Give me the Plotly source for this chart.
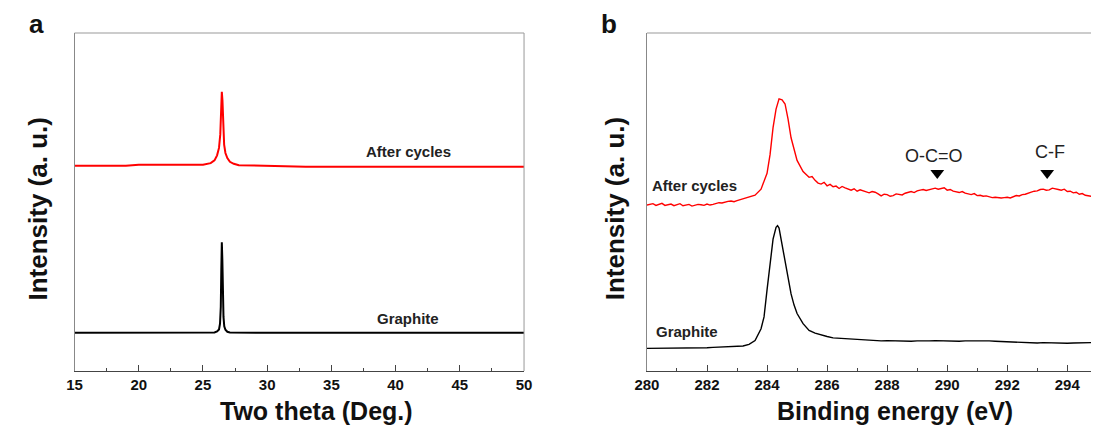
import plotly.graph_objects as go

# ---------------- data: panel a (XRD) ----------------
xrd_graphite_x = [15, 20, 25, 25.9, 26.1, 26.25, 26.33, 26.39, 26.43, 26.47, 26.51, 26.55, 26.6, 26.66, 26.75, 26.9, 27.1, 30, 35, 40, 45, 50]
xrd_graphite_y = [11.3, 11.3, 11.3, 11.4, 11.7, 12.3, 14.0, 19.0, 30.0, 38.1, 33.0, 24.0, 16.0, 13.2, 12.2, 11.6, 11.4, 11.3, 11.3, 11.3, 11.3, 11.3]

xrd_after_x = [15, 19, 20, 25, 25.6, 25.9, 26.1, 26.25, 26.35, 26.42, 26.47, 26.52, 26.58, 26.65, 26.75, 26.9, 27.1, 27.4, 27.8, 30, 32, 33, 40, 50]
xrd_after_y = [60.7, 60.7, 61.0, 61.0, 61.5, 62.3, 63.8, 66.0, 70.0, 78.0, 82.6, 80.0, 72.0, 67.0, 64.5, 63.0, 61.9, 61.3, 60.9, 60.7, 60.6, 60.4, 60.4, 60.4]

# ---------------- data: panel b (XPS C1s) ----------------
xps_after_x = [280.0, 280.1, 280.2, 280.3, 280.4, 280.5, 280.6, 280.7, 280.8, 280.9,
               281.0, 281.1, 281.2, 281.3, 281.4, 281.5, 281.6, 281.7, 281.8, 281.9,
               282.0, 282.1, 282.2, 282.3, 282.4, 282.5, 282.6, 282.7, 282.8, 282.9,
               283.0, 283.2, 283.4, 283.6, 283.8,
               284.0, 284.1, 284.2, 284.3, 284.4, 284.5, 284.6, 284.7, 284.8, 285.0,
               285.2, 285.4, 285.5, 285.6, 285.7, 285.8, 285.9, 286.0, 286.1, 286.2,
               286.3, 286.4, 286.5, 286.6, 286.7, 286.8, 286.9, 287.0, 287.1, 287.2,
               287.3, 287.4, 287.5, 287.6, 287.7, 287.8, 287.9, 288.0, 288.1, 288.2,
               288.3, 288.4, 288.5, 288.6, 288.7, 288.8, 288.9, 289.0, 289.1, 289.2,
               289.3, 289.4, 289.5, 289.6, 289.7, 289.8, 289.9, 290.0, 290.1, 290.2,
               290.3, 290.4, 290.5, 290.6, 290.7, 290.8, 290.9, 291.0, 291.1, 291.2,
               291.3, 291.4, 291.5, 291.6, 291.7, 291.8, 291.9, 292.0, 292.1, 292.2,
               292.3, 292.4, 292.5, 292.6, 292.7, 292.8, 292.9, 293.0, 293.1, 293.2,
               293.3, 293.4, 293.5, 293.6, 293.7, 293.8, 293.9, 294.0, 294.1, 294.2,
               294.3, 294.4, 294.5, 294.6, 294.7, 294.8]
xps_after_y = [49.1, 49.4, 49.5, 49.0, 49.2, 49.6, 49.0, 49.3, 49.4, 48.9,
               49.1, 49.5, 48.9, 49.2, 49.3, 48.8, 49.0, 49.3, 49.2, 49.0,
               49.4, 49.1, 49.3, 49.6, 49.8, 49.7, 50.0, 50.2, 50.3, 50.1,
               50.4, 50.9, 51.3, 52.0, 53.8,
               58.5, 64.0, 72.0, 77.5, 80.5, 80.2, 79.0, 74.5, 69.0, 62.3,
               59.0, 57.3, 57.5, 56.4, 55.6, 55.3, 55.8, 54.8, 55.2, 54.5,
               54.7, 54.0, 54.6, 54.2, 53.8, 53.5, 53.9, 53.2, 53.6, 53.3,
               52.9, 52.7, 53.1, 52.9, 52.4, 51.8, 52.3, 52.2, 51.7, 51.9,
               52.4, 52.3, 52.1, 52.6, 52.9, 53.1, 52.8, 53.3, 53.5, 53.7,
               53.4, 53.6, 54.0, 54.1, 53.8, 53.9, 54.2, 53.5, 53.7, 53.2,
               53.0, 52.8, 53.1, 52.6, 52.4, 52.2, 52.5, 51.9, 52.0, 51.7,
               51.8, 51.5, 51.3, 51.4, 51.2, 51.2, 51.3, 51.4, 51.2, 51.6,
               51.9, 51.8, 52.2, 52.3, 52.7, 52.9, 53.2, 53.3, 53.7, 53.8,
               53.5, 53.6, 54.1, 54.0, 53.7, 53.5, 53.8, 53.1, 53.2, 52.7,
               52.9, 52.3, 52.5, 52.0, 51.8, 51.7]

xps_graphite_x = [280.0, 280.2, 280.4, 280.6, 280.8, 281.0, 281.2, 281.4, 281.6, 281.8,
                  282.0, 282.2, 282.4, 282.6, 282.8, 283.0, 283.2, 283.4, 283.6, 283.8,
                  283.9, 284.0, 284.1, 284.2, 284.3, 284.35, 284.4, 284.5, 284.6, 284.7,
                  284.8, 284.9, 285.0, 285.2, 285.4, 285.6, 285.8, 286.0, 286.2, 286.4,
                  286.6, 286.8, 287.0, 287.2, 287.4, 287.6, 287.8, 288.0, 288.2, 288.4,
                  288.6, 288.8, 289.0, 289.2, 289.4, 289.6, 289.8, 290.0, 290.2, 290.4,
                  290.6, 290.8, 291.0, 291.2, 291.4, 291.6, 291.8, 292.0, 292.2, 292.4,
                  292.6, 292.8, 293.0, 293.2, 293.4, 293.6, 293.8, 294.0, 294.2, 294.4,
                  294.6, 294.8]
xps_graphite_y = [6.7, 6.7, 6.8, 6.7, 6.8, 6.7, 6.8, 6.9, 6.8, 6.9,
                  6.9, 7.0, 7.1, 7.0, 7.1, 7.3, 7.4, 7.9, 9.0, 12.5,
                  16.0, 24.0, 32.5, 39.0, 42.5, 43.0, 42.3, 37.5, 32.0, 27.0,
                  22.8, 19.5, 17.0, 14.0, 12.0, 11.2, 10.6, 10.2, 9.8, 9.7,
                  9.5, 9.3, 9.2, 9.1, 9.0, 9.1, 8.9, 9.0, 8.9, 8.8,
                  8.9, 8.8, 8.9, 8.8, 8.9, 9.0, 8.9, 8.8, 8.9, 8.8,
                  8.9, 8.9, 9.0, 9.1, 8.9, 8.8, 8.7, 8.6, 8.7, 8.5,
                  8.4, 8.4, 8.3, 8.4, 8.3, 8.2, 8.3, 8.2, 8.3, 8.4,
                  8.3, 8.4]

peak_marker_x = [289.67, 293.33]
peak_marker_y = [58.6, 58.6]
peak_labels = ["O-C=O", "C-F"]
peak_label_x = [289.56, 293.44]
peak_label_y = [63.7, 64.9]

W, H = 1099, 428
FONT = "Liberation Sans, Arial, sans-serif"

fig = go.Figure()
fig.add_trace(go.Scatter(x=xrd_after_x, y=xrd_after_y, mode="lines",
                         line=dict(color="#ff0000", width=2), xaxis="x", yaxis="y"))
fig.add_trace(go.Scatter(x=xrd_graphite_x, y=xrd_graphite_y, mode="lines",
                         line=dict(color="#000000", width=2), xaxis="x", yaxis="y"))
fig.add_trace(go.Scatter(x=xps_after_x, y=xps_after_y, mode="lines",
                         line=dict(color="#ff0000", width=1.4), xaxis="x2", yaxis="y2"))
fig.add_trace(go.Scatter(x=xps_graphite_x, y=xps_graphite_y, mode="lines",
                         line=dict(color="#000000", width=1.4), xaxis="x2", yaxis="y2"))
fig.add_trace(go.Scatter(x=peak_marker_x, y=peak_marker_y, mode="markers",
                         marker=dict(symbol="triangle-down", size=12, color="#000000"),
                         xaxis="x2", yaxis="y2"))

ydom = [(H - 371) / H, (H - 33) / H]
xdom1 = [62.7 / W, 521 / W]
xdom2 = [646.3 / W, 1.0]

tickfont = dict(family=FONT, size=15, color="#111111", weight="bold")
common_x = dict(showgrid=False, zeroline=False, showline=True, linecolor="#444444", linewidth=1,
                ticks="inside", ticklen=6, tickcolor="#444444", tickfont=tickfont)
common_y = dict(showgrid=False, zeroline=False, showline=True, linecolor="#888888", linewidth=1,
                showticklabels=False, ticks="", range=[0, 100], domain=ydom)

fig.update_layout(
    width=W, height=H, margin=dict(l=0, r=0, t=0, b=0),
    paper_bgcolor="white", plot_bgcolor="white", showlegend=False,
    xaxis=dict(common_x, domain=xdom1, range=[15, 50], dtick=5, tick0=15, anchor="y",
               minor=dict(ticks="inside", ticklen=3, dtick=2.5, tickcolor="#444444")),
    yaxis=dict(common_y, anchor="x"),
    xaxis2=dict(common_x, domain=xdom2, range=[280, 294.79], dtick=2, tick0=280, anchor="y2",
                minor=dict(ticks="inside", ticklen=3, dtick=1, tickcolor="#444444")),
    yaxis2=dict(common_y, anchor="x2"),
)

# frame borders (top/right) in gray
fig.add_shape(type="line", xref="paper", yref="paper", x0=xdom1[0], x1=xdom1[1], y0=ydom[1], y1=ydom[1],
              line=dict(color="#999999", width=1))
fig.add_shape(type="line", xref="paper", yref="paper", x0=xdom1[1], x1=xdom1[1], y0=ydom[0], y1=ydom[1],
              line=dict(color="#999999", width=1))
fig.add_shape(type="line", xref="paper", yref="paper", x0=xdom2[0], x1=xdom2[1], y0=ydom[1], y1=ydom[1],
              line=dict(color="#999999", width=1))

def paper_ann(text, px, py, size, bold=True, angle=0, color="#111111"):
    fig.add_annotation(text=f"<b>{text}</b>" if bold else text, xref="paper", yref="paper",
                       x=px / W, y=1 - py / H, xanchor="center", yanchor="middle", showarrow=False,
                       textangle=angle, font=dict(family=FONT, size=size, color=color))

paper_ann("a", 24, 24, 26)
paper_ann("b", 608, 24, 26)
paper_ann("Two theta (Deg.)", 309, 411, 25)
paper_ann("Binding energy (eV)", 899, 411, 25)
paper_ann("Intensity (a. u.)", 25, 209, 26, angle=-90)
paper_ann("Intensity (a. u.)", 614, 209, 26, angle=-90)

def data_ann(text, x, y, xr, yr, size, bold=True):
    fig.add_annotation(text=f"<b>{text}</b>" if bold else text, xref=xr, yref=yr, x=x, y=y,
                       xanchor="center", yanchor="middle", showarrow=False,
                       font=dict(family=FONT, size=size, color="#222222"))

data_ann("After cycles", 41.0, 64.9, "x", "y", 15)
data_ann("Graphite", 40.96, 15.6, "x", "y", 15)
data_ann("After cycles", 281.57, 55.0, "x2", "y2", 15)
data_ann("Graphite", 281.33, 11.6, "x2", "y2", 15)
for t, lx, ly in zip(peak_labels, peak_label_x, peak_label_y):
    data_ann(t, lx, ly, "x2", "y2", 18, bold=False)

fig.write_html("out.html")
